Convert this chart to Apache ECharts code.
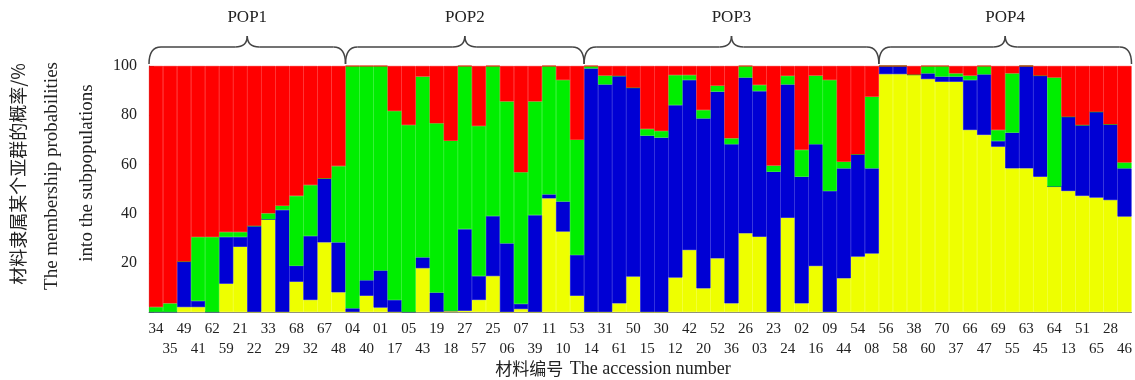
<!DOCTYPE html>
<html>
<head>
<meta charset="utf-8">
<script src="https://cdn.jsdelivr.net/npm/echarts@6/dist/echarts.min.js"></script>
<style>
  html, body { margin: 0; padding: 0; background: #fff; }
  #chart { width: 1135px; height: 380px; }
</style>
</head>
<body>
<div id="chart"></div>
<script>
// accession numbers, left to right
const accessions = [
  "34","35","49","41","62","59","21","22","33","29","68","32","67","48",
  "04","40","01","17","05","43","19","18","27","57","25","06","07","39","11","10","53",
  "14","31","61","50","15","30","12","42","20","52","36","26","03","23","24","02","16","09","44","54","08",
  "56","58","38","60","70","37","66","47","69","55","63","45","64","13","51","65","28","46"
];

// membership (%) per cluster, stacked bottom to top: yellow, blue, green, red
const yellowVals = [
  0, 0, 2, 2, 0, 11.5, 26.5, 0, 37.7, 0, 12.3, 4.9, 28.3, 8,
  0, 6.6, 1.8, 0, 0, 17.8, 0, 0.5, 0.5, 4.9, 14.6, 0, 1.2, 0, 46.2, 32.7, 6.6,
  0, 0, 3.5, 14.4, 0, 0, 14, 25.2, 9.6, 21.8, 3.5, 32, 30.6, 0, 38.3, 3.5, 18.7, 0, 13.7, 22.5, 23.8,
  96.7, 96.7, 96.5, 94.7, 93.6, 93.6, 74, 72, 67.2, 58.4, 58.4, 55, 51, 49.2, 47.2, 46.5, 45.5, 38.8
];
const blueVals = [
  0, 0, 18.5, 2.5, 0, 19, 4, 35, 0, 41.5, 6.5, 26, 26, 20.3,
  1.5, 6.3, 15.1, 4.9, 0, 4.4, 7.9, 0, 33.2, 9.7, 24.4, 27.9, 2.1, 39.4, 1.6, 12.2, 16.6,
  99, 92.5, 92.5, 76.8, 71.7, 70.9, 70.1, 69.1, 69.1, 67.8, 64.7, 63.3, 59.2, 57, 54.2, 51.5, 49.5, 49.2, 44.7, 41.6, 34.6,
  3.3, 3.3, 0, 2.3, 2.1, 2.1, 20.3, 24.6, 2.3, 14.5, 41.6, 41.1, 0, 30.2, 28.8, 34.9, 30.8, 19.6
];
const greenVals = [
  2, 3.5, 0, 26, 30.5, 2, 2, 0, 2.4, 1.7, 28.4, 20.7, 0, 31,
  98.5, 87.1, 83.1, 76.8, 76, 73.5, 68.8, 69.1, 66.3, 61, 61, 57.7, 53.5, 46.2, 52.2, 49.4, 46.8,
  1, 3.6, 0, 0, 2.7, 2.7, 12.2, 2, 3.4, 2.4, 2.4, 4.7, 2.5, 2.5, 3.5, 10.9, 27.9, 45.1, 2.7, 0, 29.1,
  0, 0, 0, 3, 4.3, 1.3, 1.8, 3.4, 4.5, 24.1, 0, 0, 44.3, 0, 0, 0, 0, 2.4
];
const redVals = [
  98, 96.5, 79.5, 69.5, 69.5, 67.5, 67.5, 65, 59.9, 56.8, 52.8, 48.4, 45.7, 40.7,
  0, 0, 0, 18.3, 24, 4.3, 23.3, 30.4, 0, 24.4, 0, 14.4, 43.2, 14.4, 0, 5.7, 30,
  0, 3.9, 4, 8.8, 25.6, 26.4, 3.7, 3.7, 17.9, 8, 29.4, 0, 7.7, 40.5, 4, 34.1, 3.9, 5.7, 38.9, 35.9, 12.5,
  0, 0, 3.5, 0, 0, 3, 3.9, 0, 26, 3, 0, 3.9, 4.7, 20.6, 24, 18.6, 23.7, 39.2
];

// subpopulation groups: name and how many accessions each holds
const popNames = ["POP1", "POP2", "POP3", "POP4"];
const popSizes = [14, 17, 21, 18];

const yTicks = [0, 20, 40, 60, 80, 100];

const serif = "'Liberation Serif', 'Times New Roman', serif";
const cjk = "'Noto Sans CJK SC', sans-serif";

const chart = echarts.init(document.getElementById("chart"));

function barSeries(name, values, color) {
  return {
    name: name,
    type: "bar",
    stack: "all",
    data: values,
    barWidth: "100%",
    barCategoryGap: 0,
    itemStyle: { color: color, borderColor: color, borderWidth: 0.6 },
    silent: true,
  };
}

const option = {
  animation: false,
  grid: { left: 149, right: 2, top: 66, bottom: 68 },
  xAxis: {
    type: "category",
    data: accessions,
    axisTick: { show: false },
    axisLine: { lineStyle: { color: "#888", width: 1 } },
    axisLabel: {
      interval: 0,
      margin: 7,
      color: "#222",
      fontFamily: serif,
      fontSize: 15,
      lineHeight: 20,
      formatter: (val, idx) => (idx % 2 ? "\n" + val : val),
    },
  },
  yAxis: {
    type: "value",
    min: yTicks[0],
    max: yTicks[yTicks.length - 1],
    interval: 20,
    splitLine: { show: false },
    axisLine: { show: true, lineStyle: { color: "#888", width: 1 } },
    axisTick: { show: true, inside: true, length: 5, lineStyle: { color: "#555" } },
    axisLabel: {
      color: "#222",
      fontFamily: serif,
      fontSize: 16,
      margin: 12,
      formatter: (v) => (v === 0 ? "" : v),
    },
  },
  series: [
    barSeries("yellow", yellowVals, "#eeff00"),
    barSeries("blue", blueVals, "#0000d4"),
    barSeries("green", greenVals, "#00ee00"),
    barSeries("red", redVals, "#ff0000"),
  ],
};

chart.setOption(option);

const braceStyle = { fill: null, stroke: "#444", lineWidth: 1.5 };

function curve(x1, y1, cx, cy, x2, y2) {
  return {
    type: "bezierCurve",
    shape: { x1: x1, y1: y1, cpx1: cx, cpy1: cy, x2: x2, y2: y2 },
    style: braceStyle,
    z: 10,
  };
}
function seg(x1, y1, x2, y2) {
  return { type: "line", shape: { x1: x1, y1: y1, x2: x2, y2: y2 }, style: braceStyle, z: 10 };
}

// braces and group labels above the plot, placed from the category scale
function buildBraces() {
  const x0 = chart.convertToPixel({ xAxisIndex: 0 }, 0);
  const x1 = chart.convertToPixel({ xAxisIndex: 0 }, 1);
  const band = x1 - x0;
  const yEnd = 64, yMid = 47, yTip = 36, r = 12;
  const elements = [];
  let start = 0;
  popSizes.forEach((n, i) => {
    const left = x0 - band / 2 + start * band;
    const right = left + n * band;
    const mid = (left + right) / 2;
    elements.push(curve(left, yEnd, left, yMid, left + r, yMid));
    elements.push(seg(left + r, yMid, mid - r, yMid));
    elements.push(curve(mid - r, yMid, mid, yMid, mid, yTip));
    elements.push(curve(mid, yTip, mid, yMid, mid + r, yMid));
    elements.push(seg(mid + r, yMid, right - r, yMid));
    elements.push(curve(right - r, yMid, right, yMid, right, yEnd));
    elements.push({
      type: "text",
      x: mid,
      y: 18,
      style: {
        text: popNames[i],
        fontFamily: serif,
        fontSize: 17,
        fill: "#222",
        align: "center",
        verticalAlign: "middle",
      },
    });
    start += n;
  });

  // axis titles
  elements.push({
    type: "text",
    x: 18, y: 174, rotation: Math.PI / 2,
    style: { text: "材料隶属某个亚群的概率/%", fontFamily: cjk, fontSize: 18, fill: "#222", align: "center", verticalAlign: "middle" },
  });
  elements.push({
    type: "text",
    x: 52, y: 176, rotation: Math.PI / 2,
    style: { text: "The membership probabilities", fontFamily: serif, fontSize: 19, fill: "#222", align: "center", verticalAlign: "middle" },
  });
  elements.push({
    type: "text",
    x: 87, y: 173, rotation: Math.PI / 2,
    style: { text: "into the subpopulations", fontFamily: serif, fontSize: 19, fill: "#222", align: "center", verticalAlign: "middle" },
  });
  elements.push({
    type: "text",
    x: 613, y: 369,
    style: {
      text: "{c|材料编号}  {e|The accession number}",
      align: "center",
      verticalAlign: "middle",
      rich: {
        c: { fontFamily: cjk, fontSize: 17, fill: "#222" },
        e: { fontFamily: serif, fontSize: 18, fill: "#222" },
      },
    },
  });
  return elements;
}

chart.setOption({ graphic: buildBraces() });

window.addEventListener("resize", () => chart.resize());
</script>
</body>
</html>
